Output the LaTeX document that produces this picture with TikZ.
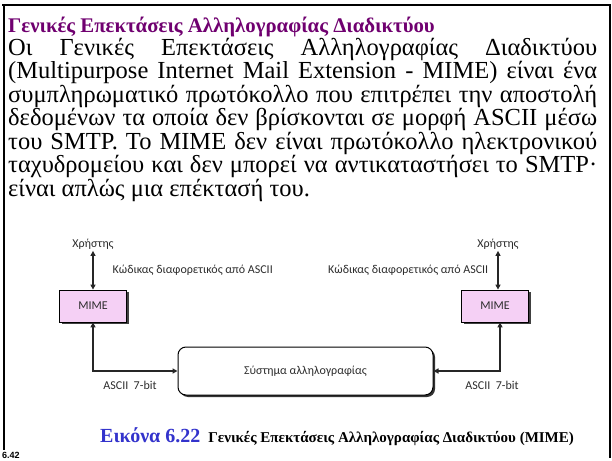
\documentclass[tikz,border=0pt]{standalone}
\usepackage{fontspec}
\setmainfont{Liberation Serif}
\newfontfamily\calfont{Carlito}
\newfontfamily\arialfont{Liberation Sans}
\usetikzlibrary{arrows.meta,shadows}
\definecolor{ttlpurple}{RGB}{112,0,112}
\definecolor{capblue}{RGB}{51,51,204}
\definecolor{mimepink}{RGB}{245,208,245}
\definecolor{diagtext}{RGB}{45,45,45}
\begin{document}
\begin{tikzpicture}[x=1bp,y=-1bp,
  frameline/.style={line width=2.5bp,black},
  bodyline/.style={anchor=base west,inner sep=0pt,font=\fontsize{24.5bp}{23.5bp}\selectfont},
  mimebox/.style={draw=black,line width=0.8bp,fill=mimepink,minimum width=67bp,minimum height=32bp,inner sep=0pt,
    font=\calfont\fontsize{12bp}{14bp}\selectfont,text=diagtext,
    drop shadow={shadow xshift=2bp,shadow yshift=-2bp,fill=black!75,opacity=1}},
  mailbox/.style={draw=black,line width=1bp,fill=white,rounded corners=8bp,minimum width=255bp,minimum height=48bp,inner sep=0pt,
    font=\calfont\fontsize{12bp}{14bp}\selectfont,text=diagtext,
    drop shadow={shadow xshift=2bp,shadow yshift=-2bp,fill=black!80,opacity=1}},
  lbl/.style={font=\calfont\fontsize{12bp}{14bp}\selectfont,text=diagtext,inner sep=1.5bp},
  conn/.style={line width=1.3bp,draw=black!85,{Triangle[length=5bp,width=5bp]}-{Triangle[length=5bp,width=5bp]}},
]
\useasboundingbox[fill=white] (0,0) rectangle (612,461);
% frame
\coordinate (ftl) at (2,5);
\coordinate (ftr) at (611,5);
\coordinate (flb) at (4,450);
\coordinate (frb) at (610,458);
\draw[frameline] (ftl) -- (ftr);
\draw[frameline] (ftl -| flb) -- (flb);
\draw[frameline] (ftr -| frb) -- (frb);
% title
\node[anchor=base west,inner sep=0pt,font=\bfseries\fontsize{20.8bp}{22bp}\selectfont,text=ttlpurple] (title) at (8,33)
  {Γενικές Επεκτάσεις Αλληλογραφίας Διαδικτύου};
% body
\node[bodyline] (b1) at (8,55.5) {\makebox[589bp][s]{Οι Γενικές Επεκτάσεις Αλληλογραφίας Διαδικτύου}};
\node[bodyline] (b2) at (8,79) {\makebox[589bp][s]{(Multipurpose Internet Mail Extension - MIME) είναι ένα}};
\node[bodyline] (b3) at (8,102.5) {\makebox[589bp][s]{συμπληρωματικό πρωτόκολλο που επιτρέπει την αποστολή}};
\node[bodyline] (b4) at (8,126) {\makebox[589bp][s]{δεδομένων τα οποία δεν βρίσκονται σε μορφή ASCII μέσω}};
\node[bodyline] (b5) at (8,149.5) {\makebox[589bp][s]{του SMTP. Το MIME δεν είναι πρωτόκολλο ηλεκτρονικού}};
\node[bodyline] (b6) at (8,173) {\makebox[589bp][s]{ταχυδρομείου και δεν μπορεί να αντικαταστήσει το SMTP·}};
\node[bodyline] (b7) at (8,196.5) {είναι απλώς μια επέκτασή του.};
% diagram
\node[lbl] (uL) at (93,244) {Χρήστης};
\node[mimebox] (mimeL) at (93,306) {MIME};
\node[lbl,anchor=west] (kL) at (111,270) {Κώδικας διαφορετικός από ASCII};
\node[mailbox] (mail) at (305.5,371) {Σύστημα αλληλογραφίας};
\node[lbl] (aL) at (130,385) {ASCII\ \ 7-bit};
\node[lbl] (uR) at (498,244) {Χρήστης};
\node[mimebox] (mimeR) at (495,306) {MIME};
\node[lbl,anchor=east] (kR) at (490,270) {Κώδικας διαφορετικός από ASCII};
\node[lbl] (aR) at (492,385) {ASCII\ \ 7-bit};
\draw[conn] (uL.south) -- (uL.south |- mimeL.north);
\draw[conn] (uR.south) -- (uR.south |- mimeR.north);
\draw[conn] (mimeL.south) |- (mail.west);
\draw[conn] ([xshift=5bp]mimeR.south) |- (mail.east);
% caption
\node[anchor=base west,inner sep=0pt] (cap) at (100,442)
  {{\bfseries\fontsize{20bp}{22bp}\selectfont\color{capblue}Εικόνα 6.22}\hspace{8bp}{\bfseries\fontsize{15bp}{17bp}\selectfont Γενικές Επεκτάσεις Αλληλογραφίας Διαδικτύου (MIME)}};
\node[anchor=base west,inner sep=0pt,font=\arialfont\bfseries\fontsize{9bp}{10bp}\selectfont] (pg) at (2,458) {6.42};
\end{tikzpicture}
\end{document}
